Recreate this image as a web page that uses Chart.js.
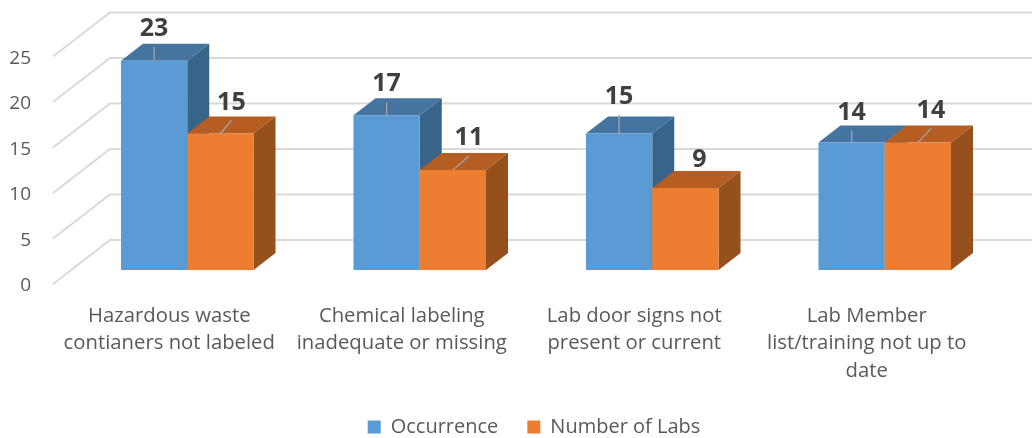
<!DOCTYPE html>
<html><head><meta charset="utf-8">
<style>html,body{margin:0;padding:0;background:#fff}canvas{display:block}</style>
<script src="https://cdn.jsdelivr.net/npm/chart.js@4"></script></head>
<body><div style="width:1032px;height:438px;position:relative"><canvas id="c" width="1032" height="438"></canvas></div>
<script>
const categories = [
  ["Hazardous waste","contianers not labeled"],
  ["Chemical labeling","inadequate or missing"],
  ["Lab door signs not","present or current"],
  ["Lab Member","list/training not up to","date"]
];
const occurrence = [23,17,15,14];
const numberOfLabs = [15,11,9,14];
const seriesNames = ["Occurrence","Number of Labs"];
const yTicks = {min:0,max:25,step:5};

const FONT = "'Open Sans'";
const wall = {dx:57,dy:-44}, plane = {dx:18,dy:-14}, depth = {dx:22,dy:-17};
const shades = [{top:"#44749F",side:"#39648A"},{top:"#B55D22",side:"#95501C"}];
// label offset from the bar's front-top centre, and whether a leader line shows
const labelShift = [
  [[0,-32],[0,-31],[0,-37],[0,-30]],
  [[11,-31],[16,-32],[14,-28],[13,-32]]
];
const leaderShown = [[1,1,1,1],[1,1,0,1]];

function poly(ctx,pts,fill){ctx.beginPath();pts.forEach((p,i)=>i?ctx.lineTo(p[0],p[1]):ctx.moveTo(p[0],p[1]));ctx.closePath();ctx.fillStyle=fill;ctx.fill();}

const faces3d = {
  id:"faces3d",
  afterLayout(chart){
    const lg=chart.legend, h=lg.bottom-lg.top;
    lg.left += 42.5; lg.right += 42.5;
    lg.top = 388; lg.bottom = 388+h;
    chart.scales.x.bottom = 438;
    chart.scales.y.getLabelItems().forEach(it=>{it.options.translation[1]+=2;});
  },
  beforeDatasetsDraw(chart){
    const ctx = chart.ctx, ya = chart.scales.y, area = chart.chartArea;
    ctx.save();
    ctx.strokeStyle="#D9D9D9";ctx.lineWidth=2;
    ya.ticks.forEach(t=>{
      const y=ya.getPixelForValue(t.value);
      ctx.beginPath();ctx.moveTo(area.left,y);ctx.lineTo(area.left+wall.dx,y+wall.dy);ctx.lineTo(1032,y+wall.dy);ctx.stroke();
    });
    ctx.restore();
    ctx.save();ctx.translate(plane.dx,plane.dy);
    chart.data.datasets.forEach((ds,di)=>{
      const meta=chart.getDatasetMeta(di);
      meta.data.forEach(el=>{
        const {x,y,width,base}=el.getProps(["x","y","width","base"],true);
        const l=x-width/2,r=x+width/2,d=depth;
        poly(ctx,[[l,y],[r,y],[r+d.dx,y+d.dy],[l+d.dx,y+d.dy]],shades[di].top);
        poly(ctx,[[r,y],[r+d.dx,y+d.dy],[r+d.dx,base+d.dy],[r,base]],shades[di].side);
        el.draw(ctx);
      });
    });
    chart.data.datasets.forEach((ds,di)=>{
      const meta=chart.getDatasetMeta(di);
      meta.data.forEach((el,i)=>{
        const {x,y}=el.getProps(["x","y"],true);
        const s=labelShift[di][i];
        if(leaderShown[di][i]){
          ctx.strokeStyle="#A6A6A6";ctx.lineWidth=1.3;
          ctx.beginPath();ctx.moveTo(x,y);ctx.lineTo(x+s[0],y+s[1]+18);ctx.stroke();
        }
        ctx.fillStyle="#404040";ctx.font="bold 25px "+FONT;ctx.textAlign="center";ctx.textBaseline="middle";
        ctx.fillText(String(ds.data[i]),x+s[0],y+s[1]);
      });
    });
    ctx.restore();
    return false;
  }
};

new Chart(document.getElementById("c"),{
  type:"bar",
  data:{labels:categories,datasets:[
    {label:seriesNames[0],data:occurrence,backgroundColor:"#5B9BD5",borderWidth:0},
    {label:seriesNames[1],data:numberOfLabs,backgroundColor:"#ED7D31",borderWidth:0}
  ]},
  options:{
    responsive:false,animation:false,
    layout:{padding:{top:56.5,right:49,left:0,bottom:0}},
    datasets:{bar:{categoryPercentage:0.57,barPercentage:1}},
    scales:{
      x:{
        grid:{display:false},border:{display:false},
        ticks:{color:"#595959",font:{family:FONT,size:20.3,lineHeight:1.36},padding:10,maxRotation:0,autoSkip:false},
        afterFit(s){s.height=438-284-s.chart.legend.height;}
      },
      y:{
        min:yTicks.min,max:yTicks.max,
        grid:{display:false,drawTicks:false},border:{display:false},
        ticks:{stepSize:yTicks.step,color:"#595959",font:{family:FONT,size:19},padding:22},
        afterFit(s){s.width=53;}
      }
    },
    plugins:{
      tooltip:{enabled:false},
      legend:{position:"bottom",labels:{boxWidth:13,boxHeight:13,color:"#595959",font:{family:FONT,size:20},padding:29}}
    }
  },
  plugins:[faces3d]
});
</script></body></html>
